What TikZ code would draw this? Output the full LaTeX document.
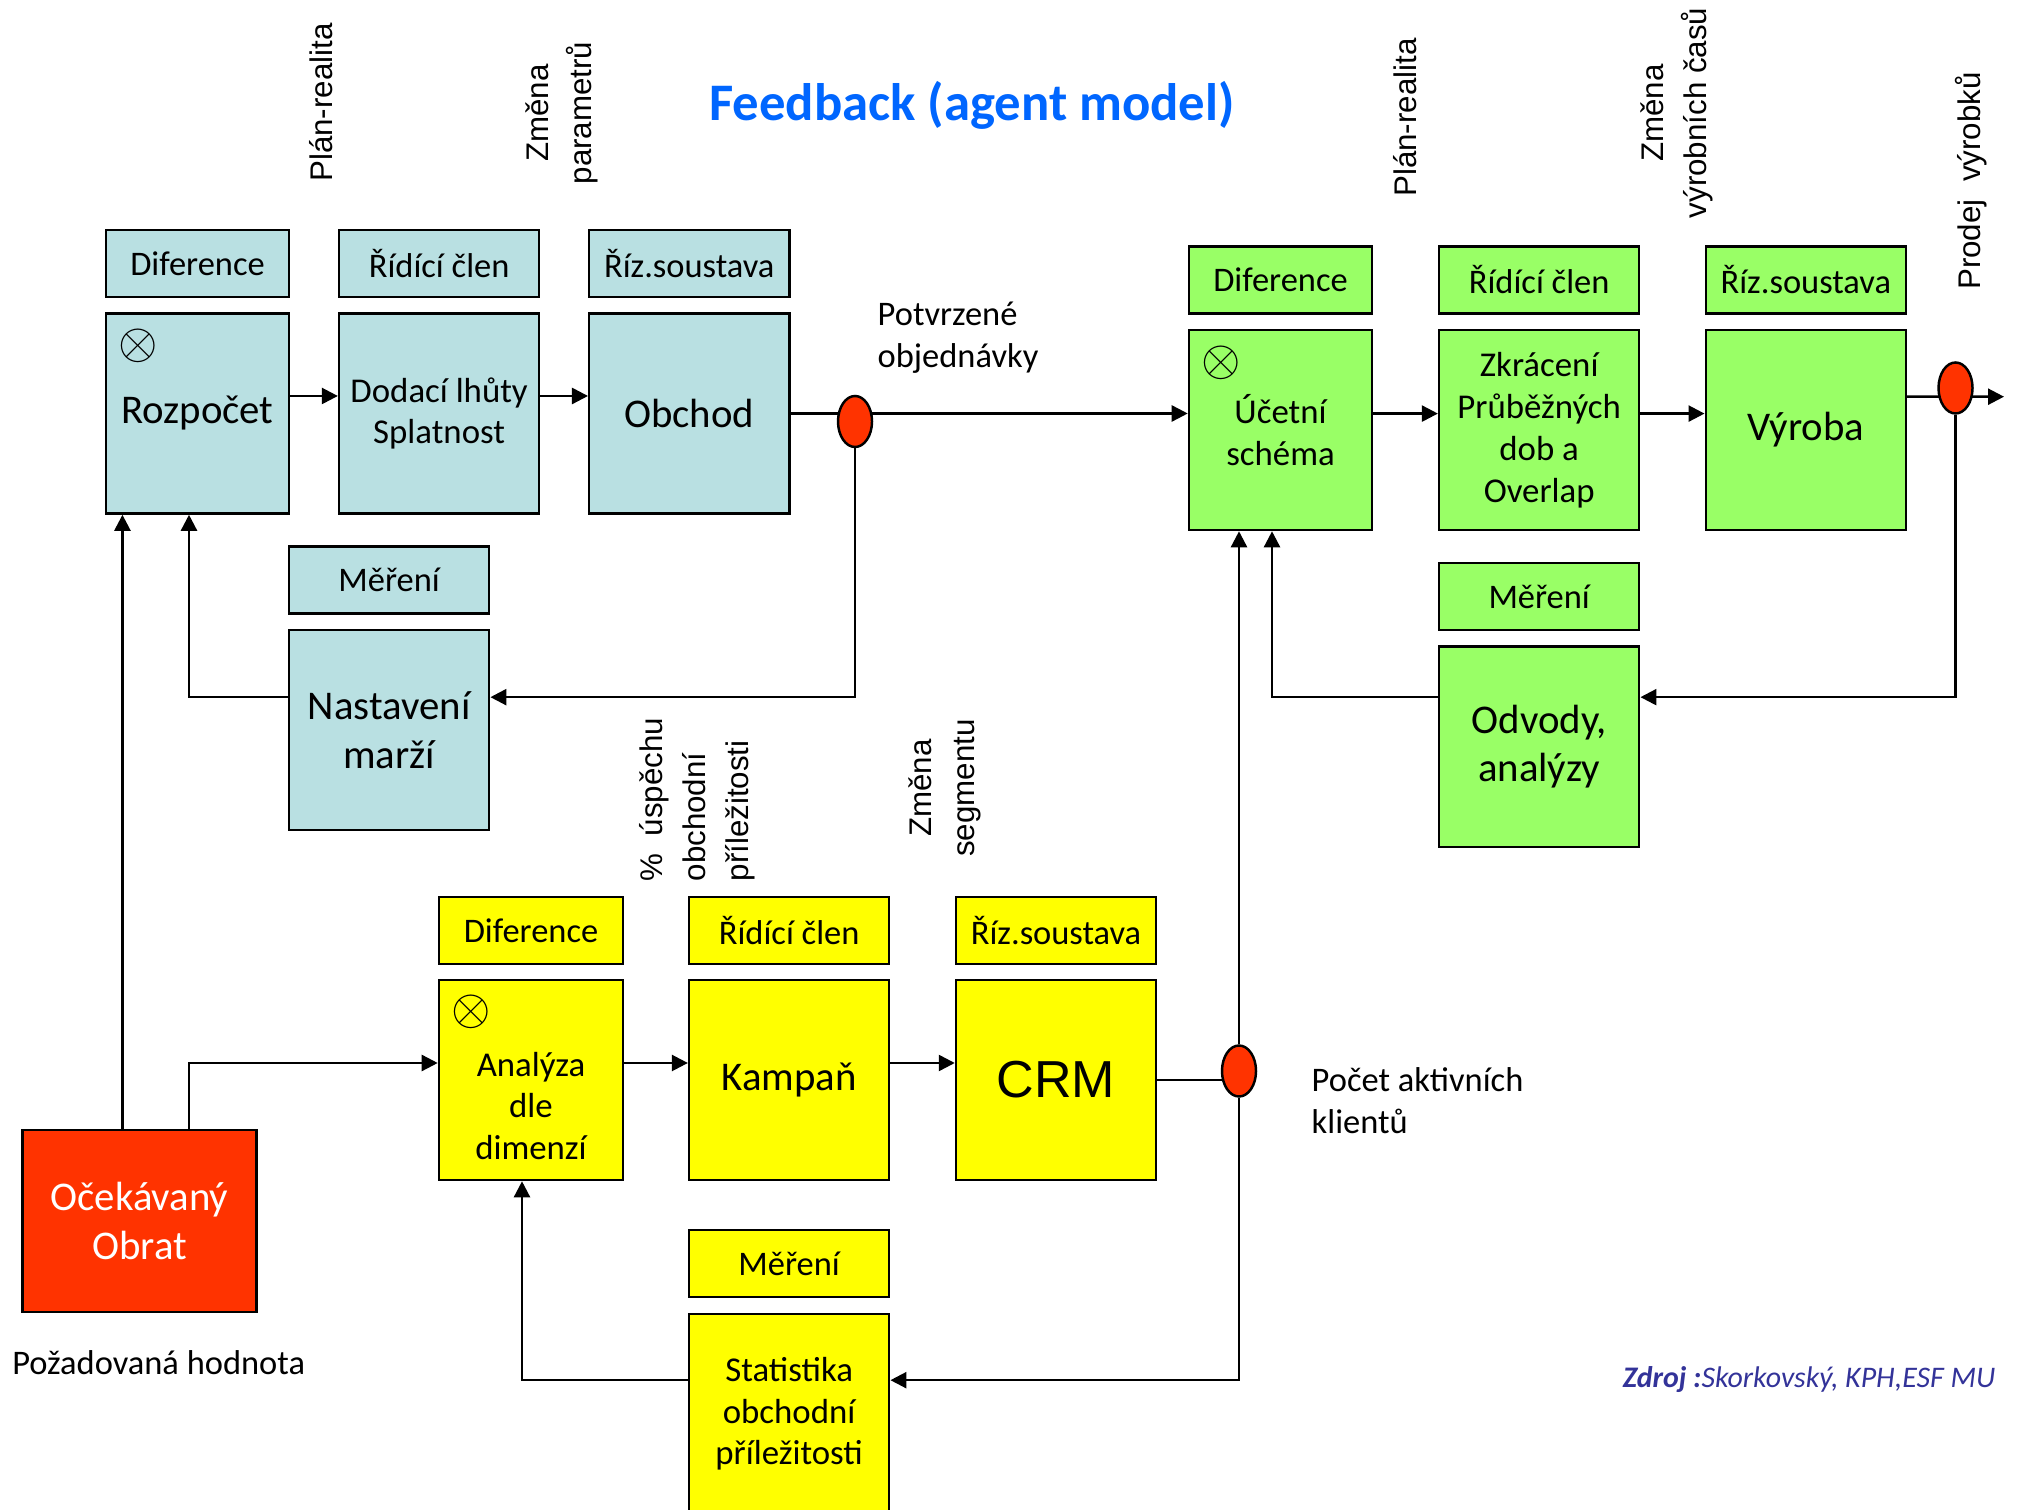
\documentclass[tikz,border=0pt]{standalone}
\usepackage{fontspec}
\setmainfont{Carlito}
\newfontfamily\arialfont{Liberation Sans}
\usepackage{tikz}
\usetikzlibrary{arrows.meta,shapes,backgrounds,positioning}
\definecolor{modra}{RGB}{185,224,226}
\definecolor{zelena}{RGB}{153,255,102}
\definecolor{zluta}{RGB}{255,255,0}
\definecolor{cervena}{RGB}{255,51,0}
\definecolor{nadpis}{RGB}{0,102,255}
\definecolor{zdroj}{RGB}{51,51,153}

\begin{document}
\begin{tikzpicture}[x=0.01cm, y=-0.01cm, node distance=2.5cm, on grid, >={Triangle[length=1.6mm,width=1.6mm]},
    every node/.style={inner sep=0pt},
    blok/.style={draw, line width=0.7pt, minimum width=2cm, minimum height=2cm, align=center, font=\fontsize{9.9}{11.9}\selectfont},
    velky/.style={font=\fontsize{11.6}{13.8}\selectfont},
    stitek/.style={draw, line width=0.7pt, minimum width=2cm, minimum height=0.67cm, font=\fontsize{9.8}{11.9}\selectfont},
    uzel/.style={ellipse, draw, line width=0.7pt, fill=cervena, minimum width=0.34cm, minimum height=0.51cm},
    svisly/.style={rotate=90, align=center, font=\arialfont\fontsize{8.9}{12.2}\selectfont},
    popis/.style={align=left, anchor=west, font=\fontsize{9.8}{11.9}\selectfont},
    spoj/.style={line width=0.7pt}]
        \path[use as bounding box, clip] (0,0) rectangle (2022,1510);
        % nadpis a svisle popisky
        \node[font=\bfseries\fontsize{15}{18}\selectfont, text=nadpis, anchor=base] (nadpis) at (972,121) {Feedback (agent model)};
        \node[svisly] (plan_1)  at (321.5,102.5) {Plán-realita};
        \node[svisly] (zmena_1) at (561.5,113)   {Změna\\parametrů};
        \node[svisly] (plan_2)  at (1405.5,117.5) {Plán-realita};
        \node[svisly] (zmena_2) at (1677,113)    {Změna\\výrobních časů};
        \node[svisly] (prodej)  at (1971.5,181)  {Prodej\ \ výrobků};
        \node[svisly, anchor=west, align=left] (uspech) at (697.5,882) {\%\ \ úspěchu\\obchodní\\příležitosti};
        \node[svisly] (zmena_3) at (944.5,788)   {Změna\\segmentu};
        % obchod (modra)
        \node[blok, fill=modra, velky, minimum width=1.83cm] (rozpocet) at (197.5,413.5) {Rozpočet};
        \node[blok, fill=modra]        (dodaci)    [right=2.415cm of rozpocet]          {Dodací lhůty\\Splatnost};
        \node[blok, fill=modra, velky] (obchod)    [right=2.5cm of dodaci]              {Obchod};
        \node[stitek, fill=modra, minimum width=1.83cm] (dif_1) [above=1.5cm of rozpocet] {Diference};
        \node[stitek, fill=modra]      (rid_1)     [above=1.5cm of dodaci]              {Řídící člen};
        \node[stitek, fill=modra]      (riz_1)     [above=1.5cm of obchod]              {Říz.soustava};
        \node[blok, fill=modra, velky] (nastaveni) [below left=3.165cm and 0.5cm of dodaci] {Nastavení\\marží};
        \node[stitek, fill=modra]      (mer_1)     [above=1.5cm of nastaveni]           {Měření};
        \node[font=\Large]             (krat_1)    at ([xshift=3.3mm,yshift=-3.4mm]rozpocet.north west) {$\otimes$};
        \node[uzel]                    (s_1)       at (855,421.5) {};
        % vyroba (zelena)
        \node[blok, fill=zelena, minimum width=1.83cm] (ucetni) at (1280.5,430)          {Účetní\\schéma};
        \node[blok, fill=zelena]       (zkraceni)  [right=2.585cm of ucetni]            {Zkrácení\\Průběžných\\dob a\\Overlap};
        \node[blok, fill=zelena, velky] (vyroba)   [right=2.665cm of zkraceni]          {Výroba};
        \node[stitek, fill=zelena, minimum width=1.83cm] (dif_2) [above=1.5cm of ucetni] {Diference};
        \node[stitek, fill=zelena]     (rid_2)     [above=1.5cm of zkraceni]            {Řídící člen};
        \node[stitek, fill=zelena]     (riz_2)     [above=1.5cm of vyroba]              {Říz.soustava};
        \node[blok, fill=zelena, velky] (odvody)   [below=3.165cm of zkraceni]          {Odvody,\\analýzy};
        \node[stitek, fill=zelena]     (mer_2)     [above=1.5cm of odvody]              {Měření};
        \node[font=\Large]             (krat_2)    at ([xshift=3.3mm,yshift=-3.4mm]ucetni.north west) {$\otimes$};
        \node[uzel]                    (s_2)       at (1955.5,388) {};
        \coordinate (vystup) at (2004,396.7);
        % marketing (zluta)
        \node[blok, fill=zluta, minimum width=1.84cm] (analyza) at (531,1080) {};
        \node[align=center, font=\fontsize{9.9}{11.9}\selectfont] (analyza_t) [below=0.26cm of analyza] {Analýza\\dle\\dimenzí};
        \node[blok, fill=zluta, velky] (kampan)    [right=2.58cm of analyza]            {Kampaň};
        \node[blok, fill=zluta, font=\arialfont\fontsize{14.8}{17}\selectfont] (crm) [right=2.6675cm of kampan] {CRM};
        \node[stitek, fill=zluta, minimum width=1.84cm] (dif_3) [above=1.495cm of analyza] {Diference};
        \node[stitek, fill=zluta]      (rid_3)     [above=1.495cm of kampan]            {Řídící člen};
        \node[stitek, fill=zluta]      (riz_3)     [above=1.495cm of crm]               {Říz.soustava};
        \node[blok, fill=zluta]        (statistika) [below=3.336cm of kampan]           {Statistika\\obchodní\\příležitosti};
        \node[stitek, fill=zluta]      (mer_3)     [above=1.5cm of statistika]          {Měření};
        \node[font=\Large]             (krat_3)    at ([xshift=3.3mm,yshift=-3.3mm]analyza.north west) {$\otimes$};
        \node[uzel]                    (s_3)       at (1239,1071) {};
        % pozadovana hodnota
        \node[blok, fill=cervena, text=white, velky, minimum width=2.335cm, minimum height=1.815cm] (obrat) at (139.5,1221) {Očekávaný\\Obrat};
        \node[popis] (pozadovana) at (11.6,1363) {Požadovaná hodnota};
        \node[popis] (potvrzene)  at (877,338)   {Potvrzené\\objednávky};
        \node[popis] (pocet)      at (1311,1101) {Počet aktivních\\klientů};
        \node[anchor=east, text=zdroj, font=\itshape\fontsize{8.5}{10.2}\selectfont] (zdroj) at (1996,1380) {\textbf{Zdroj :}Skorkovský, KPH,ESF MU};
        \coordinate (vstup_1) at ([xshift=-7.5mm]rozpocet.south);
        \coordinate (vstup_2) at ([xshift=-0.85mm]rozpocet.south);
        \begin{scope}[on background layer]
            \draw[->, spoj] ([yshift=1.75mm]rozpocet.east) -- ([yshift=1.75mm]dodaci.west);
            \draw[->, spoj] ([yshift=1.75mm]dodaci.east) -- ([yshift=1.75mm]obchod.west);
            \draw[->, spoj] (obchod.east) -- (obchod.east -| ucetni.west);
            \draw[->, spoj] (s_1) |- ([yshift=3.3mm]nastaveni.east);
            \draw[->, spoj] ([yshift=3.3mm]nastaveni.west) -| (vstup_2);
            \draw[->, spoj] (vstup_1 |- obrat.north) -- (vstup_1);
            \draw[->, spoj] (vstup_2 |- obrat.north) |- ([yshift=1.7mm]analyza.west);
            \draw[->, spoj] ([yshift=1.64mm]ucetni.east) -- ([yshift=1.64mm]zkraceni.west);
            \draw[->, spoj] ([yshift=1.64mm]zkraceni.east) -- ([yshift=1.64mm]vyroba.west);
            \draw[->, spoj] ([yshift=3.33mm]vyroba.east) -- (vystup);
            \draw[->, spoj] (s_2) |- ([yshift=4.95mm]odvody.east);
            \draw[->, spoj] ([yshift=4.95mm]odvody.west) -| ([xshift=-0.85mm]ucetni.south);
            \draw[->, spoj] ([yshift=1.7mm]analyza.east) -- ([yshift=1.7mm]kampan.west);
            \draw[->, spoj] ([yshift=1.7mm]kampan.east) -- ([yshift=1.7mm]crm.west);
            \draw[spoj] (crm.east) -- (crm.east -| s_3);
            \draw[->, spoj] (s_3) -- (s_3 |- ucetni.south);
            \draw[->, spoj] (s_3) |- ([yshift=3.36mm]statistika.east);
            \draw[->, spoj] ([yshift=3.36mm]statistika.west) -| ([xshift=-0.9mm]analyza.south);
        \end{scope}
\end{tikzpicture}
\end{document}
